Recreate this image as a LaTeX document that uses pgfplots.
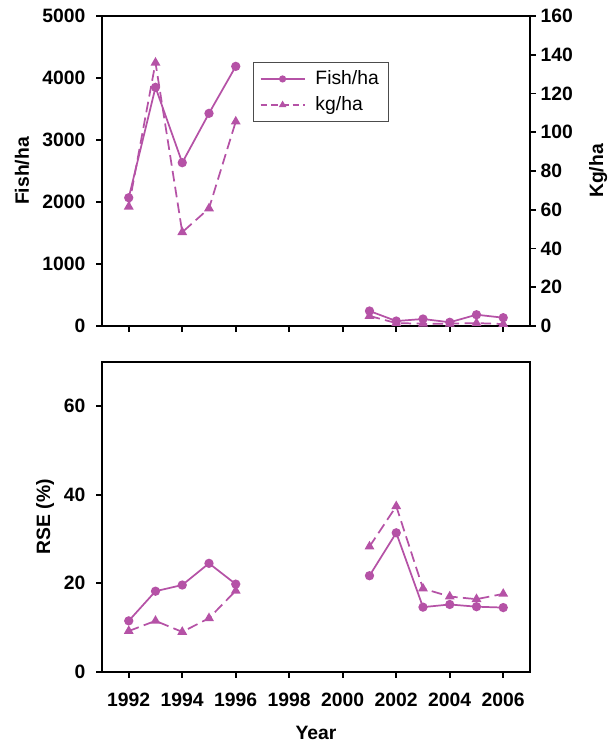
\documentclass[border=0pt]{standalone}
\usepackage{pgfplots}
\pgfplotsset{compat=1.18}
\usepackage{fontspec}
\setmainfont{Liberation Sans}
\definecolor{mag}{RGB}{181,82,166}
\begin{document}
\begin{tikzpicture}
\useasboundingbox (-76.5pt,-313.5pt) rectangle (384.75pt,244.5pt);
\pgfplotsset{
  every axis/.append style={
    scale only axis, width=321pt, height=232.5pt,
    xmin=1991, xmax=2007,
    axis line style={line width=1.4pt},
    tick style={line width=1.2pt, black},
    major tick length=4.5pt,
    tick align=outside,
    /pgf/number format/assume math mode=true,
    /pgf/number format/1000 sep={},
    ticklabel style={font=\fontsize{14.5}{16}\selectfont\bfseries},
    yticklabel style={xshift=-4.5pt},
    xticklabel style={yshift=-8pt},
    label style={font=\fontsize{14.5}{16}\selectfont\bfseries},
  },
  fishstyle/.style={mag, line width=1.3pt, mark=*, mark size=2.8pt, mark options={solid, fill=mag}},
  kgstyle/.style={mag, line width=1.3pt, dash pattern=on 8pt off 4pt, mark=triangle*, mark size=3pt, mark options={solid, fill=mag}},
}
% top left axis
\begin{axis}[
  ymin=0, ymax=5000,
  ytick={0,1000,2000,3000,4000,5000},
  xtick={1992,1994,...,2006},
  xticklabels={},
  xtick pos=bottom, ytick pos=left,
  ylabel={Fish/ha},
  ylabel style={at={(axis description cs:-0.187,0.5)}, anchor=center},
  legend style={at={(0.352,0.852)}, anchor=north west, draw=black!70, line width=0.6pt,
    font=\fontsize{14.5}{17}\selectfont, row sep=2.5pt, column sep=5pt, inner xsep=5pt, inner ysep=4pt,
    nodes={inner sep=2.5pt}},
  legend cell align=left,
  legend image code/.code={
    \draw[mark repeat=2, mark phase=2, mark size=2pt, #1] plot coordinates {(0cm,0cm) (0.58cm,0cm) (1.16cm,0cm)};},
]
\addplot[fishstyle] coordinates {(1992,2069) (1993,3850) (1994,2634) (1995,3430) (1996,4188)};
\addlegendentry{Fish/ha}
\addlegendimage{kgstyle, dash pattern=on 5pt off 3pt}
\addlegendentry{kg/ha}
\addplot[fishstyle, forget plot] coordinates {(2001,242) (2002,80) (2003,113) (2004,60) (2005,182) (2006,134)};
\end{axis}
% top right axis
\begin{axis}[
  ymin=0, ymax=160,
  ytick={0,20,...,160},
  axis y line*=right, axis x line=none,
  yticklabel style={xshift=4.5pt},
  ylabel={Kg/ha},
  ylabel style={at={(axis description cs:1.159,0.5)}, anchor=center},
]
\addplot[kgstyle] coordinates {(1992,61.6) (1993,135.9) (1994,48.4) (1995,60.7) (1996,105.5)};
\addplot[kgstyle] coordinates {(2001,5.2) (2002,1.5) (2003,1.2) (2004,1.2) (2005,1.5) (2006,1.0)};
\end{axis}
% bottom axis
\begin{axis}[
  at={(0pt,-259.3pt)}, anchor=south west,
  height=232.3pt,
  ymin=0, ymax=70,
  ytick={0,20,40,60},
  xtick={1992,1994,...,2006},
  xtick pos=bottom, ytick pos=left,
  ylabel={RSE (\%)},
  ylabel style={at={(axis description cs:-0.133,0.5)}, anchor=center},
  xlabel={Year},
  xlabel style={at={(axis description cs:0.5,-0.198)}, anchor=center},
]
\addplot[fishstyle] coordinates {(1992,11.5) (1993,18.2) (1994,19.6) (1995,24.5) (1996,19.8)};
\addplot[fishstyle] coordinates {(2001,21.7) (2002,31.4) (2003,14.6) (2004,15.2) (2005,14.7) (2006,14.5)};
\addplot[kgstyle] coordinates {(1992,9.2) (1993,11.5) (1994,9.0) (1995,12.1) (1996,18.3)};
\addplot[kgstyle] coordinates {(2001,28.3) (2002,37.4) (2003,18.8) (2004,17.0) (2005,16.4) (2006,17.6)};
\end{axis}
\end{tikzpicture}
\end{document}
